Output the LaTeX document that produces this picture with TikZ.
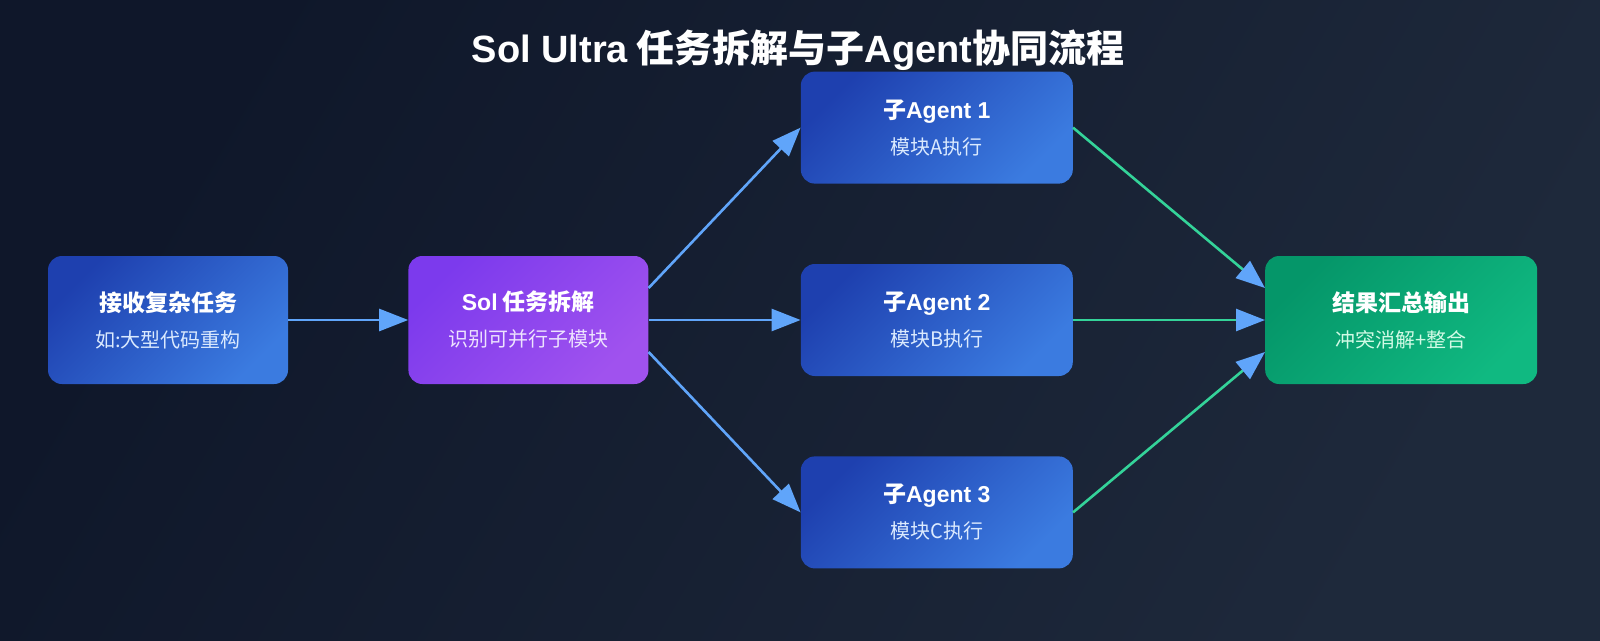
\documentclass[tikz,border=0pt]{standalone}
\usepackage{fontspec}
\setmainfont{Noto Sans CJK SC}
\newfontfamily\latin{Liberation Sans}
\usepackage{xcolor}
\usetikzlibrary{arrows.meta,positioning}

\definecolor{bgA}{HTML}{0F172A}
\definecolor{bgB}{HTML}{1E293B}
\definecolor{blueA}{HTML}{1E40AF}
\definecolor{blueB}{HTML}{3B7BE0}
\definecolor{purpleA}{HTML}{7C3AED}
\definecolor{purpleB}{HTML}{A052EE}
\definecolor{greenA}{HTML}{059669}
\definecolor{greenB}{HTML}{10B981}
\definecolor{flowblue}{HTML}{60A5FA}
\definecolor{flowgreen}{HTML}{34D399}
\definecolor{subblue}{HTML}{DBEAFE}
\definecolor{subpurple}{HTML}{EDE3FE}
\definecolor{subgreen}{HTML}{D1FAE5}

\newcommand{\boxhead}[1]{{\bfseries\fontsize{23}{27}\selectfont #1}}

\begin{document}
\begin{tikzpicture}[x=1pt,y=-1pt,node distance=80pt and 120pt,
  every node/.style={text=white},
  box/.style={rounded corners=14pt,align=center,inner sep=0pt,minimum width=240pt,minimum height=128pt,
    left color=blueA,right color=blueB,shading angle=45,font=\fontsize{20}{27}\selectfont},
  agentbox/.style={box,minimum width=272pt,minimum height=112pt},
  flow/.style={draw=flowblue,line width=2.6pt,-{Triangle[length=29pt,width=22pt,color=flowblue]}},
  merge/.style={flow,draw=flowgreen}]
\shade[left color=bgA,right color=bgB,shading angle=60] (0,0) rectangle (1600,640);
\node[font=\bfseries\fontsize{38}{43}\selectfont] (title) at (798,50) {{\latin Sol Ultra} 任务拆解与子{\latin Agent}协同流程};
\node[box] (input) at (168,320) {\boxhead{接收复杂任务}\\[9pt]\textcolor{subblue}{如:大型代码重构}};
\node[box,right=of input,left color=purpleA,right color=purpleB,shading angle=45] (split)
  {\boxhead{{\latin Sol} 任务拆解}\\[9pt]\textcolor{subpurple}{识别可并行子模块}};
\node[agentbox,right=152pt of split] (agentB) {\boxhead{子{\latin Agent 2}}\\[9pt]\textcolor{subblue}{模块B执行}};
\node[agentbox,above=of agentB] (agentA) {\boxhead{子{\latin Agent 1}}\\[9pt]\textcolor{subblue}{模块A执行}};
\node[agentbox,below=of agentB] (agentC) {\boxhead{子{\latin Agent 3}}\\[9pt]\textcolor{subblue}{模块C执行}};
\node[agentbox,right=192pt of agentB,minimum height=128pt,left color=greenA,right color=greenB,shading angle=45] (output)
  {\boxhead{结果汇总输出}\\[9pt]\textcolor{subgreen}{冲突消解+整合}};
% arrows
\draw[flow] (input) -- (split);
\draw[flow] ([yshift=32pt]split.east) -- (agentA.west);
\draw[flow] (split) -- (agentB);
\draw[flow] ([yshift=-32pt]split.east) -- (agentC.west);
\draw[merge] (agentA.east) -- ([yshift=32pt]output.west);
\draw[merge] (agentB) -- (output);
\draw[merge] (agentC.east) -- ([yshift=-32pt]output.west);
\end{tikzpicture}
\end{document}
